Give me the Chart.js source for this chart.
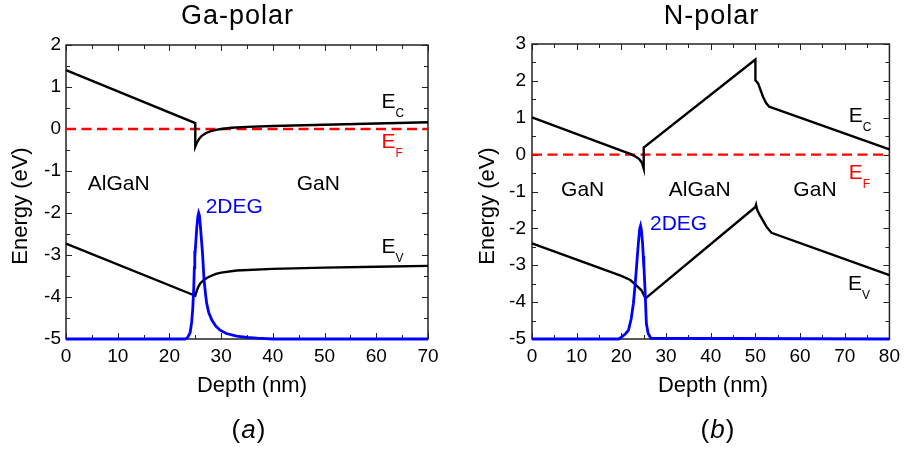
<!DOCTYPE html>
<html>
<head>
<meta charset="utf-8">
<script src="https://cdn.jsdelivr.net/npm/chart.js@4.4.1/dist/chart.umd.min.js"></script>
<style>
  html, body { margin: 0; padding: 0; background: #fff; }
  #wrap { position: relative; width: 906px; height: 451px; }
  canvas { position: absolute; top: 0; }
</style>
</head>
<body>
<div id="wrap">
  <canvas id="ga" width="453" height="451" style="left:0"></canvas>
  <canvas id="np" width="453" height="451" style="left:453px"></canvas>
</div>
<script>
// ===== data: (a) Ga-polar =====
const gaEcDepth = [0, 25, 25, 25.3, 25.7, 26.2, 27, 28, 29, 30, 32, 35, 40, 50, 60, 70];
const gaEc      = [1.40, 0.14, -0.42, -0.33, -0.24, -0.17, -0.10, -0.05, -0.02, 0.00, 0.03, 0.05, 0.07, 0.10, 0.13, 0.16];
const gaEvDepth = [0, 25, 25.3, 25.6, 26, 26.6, 27.3, 28, 29, 30, 33, 40, 50, 60, 70];
const gaEv      = [-2.73, -3.97, -3.85, -3.75, -3.67, -3.60, -3.54, -3.50, -3.45, -3.42, -3.37, -3.33, -3.30, -3.28, -3.26];
const gaDegDepth = [0, 23.0, 23.5, 24.0, 24.3, 24.5, 24.7, 24.82, 24.88, 24.93, 25.1, 25.3, 25.5, 25.65, 25.8, 26.0, 26.2, 26.4, 26.7, 27.0, 27.2, 27.6, 28.2, 29.0, 29.8, 31, 33, 35, 37, 40, 70];
const gaDeg      = [-5, -5, -4.97, -4.85, -4.6, -4.3, -3.8, -3.3, -2.9, -3.05, -2.7, -2.33, -2.08, -2.0, -2.06, -2.33, -2.65, -2.96, -3.6, -3.95, -4.15, -4.37, -4.55, -4.7, -4.79, -4.87, -4.93, -4.96, -4.98, -5, -5];
const gaEfDepth = [0, 70];
const gaEf      = [0, 0];

// ===== data: (b) N-polar =====
const npEcDepth = [0, 20, 22, 23, 24, 24.6, 25, 25, 50, 50, 50.6, 51.7, 52.4, 53.1, 54, 80];
const npEc      = [1.01, 0.11, 0.02, -0.04, -0.12, -0.22, -0.38, 0.19, 2.58, 2.02, 1.93, 1.57, 1.40, 1.30, 1.26, 0.14];
const npEvDepth = [0, 20, 22, 23.1, 24, 24.5, 25, 25.4, 50, 50.15, 50.4, 51, 52.5, 53.6, 80];
const npEv      = [-2.41, -3.29, -3.40, -3.52, -3.62, -3.68, -3.80, -3.90, -1.42, -1.36, -1.50, -1.64, -1.96, -2.12, -3.27];
const npDegDepth = [0, 19.4, 20.1, 21, 21.6, 22.2, 22.7, 23.1, 23.4, 23.8, 24.1, 24.3, 24.5, 24.75, 24.9, 25.0, 25.05, 25.3, 25.6, 26.0, 26.6, 80];
const npDeg      = [-5, -5, -4.94, -4.85, -4.76, -4.45, -4.03, -3.5, -3.04, -2.41, -2.02, -1.93, -2.05, -2.41, -2.75, -3.05, -2.95, -3.67, -4.58, -4.85, -4.98, -5];
const npEfDepth = [0, 80];
const npEf      = [0, 0];

const FONT = '"Liberation Sans", Arial, Helvetica, sans-serif';
const pts = (xs, ys) => xs.map((x, i) => ({ x, y: ys[i] }));

// 框線 + 內向刻度（四邊）
const frameTicks = {
  id: 'frameTicks',
  beforeDatasetsDraw(chart) {
    const { ctx, chartArea: a, scales: { x, y } } = chart;
    const mid = v => v.slice(1).map((b, i) => (v[i] + b) / 2);
    const xv = x.ticks.map(t => t.value);
    const yv = y.ticks.map(t => t.value);
    ctx.save();
    ctx.strokeStyle = '#222';
    ctx.lineWidth = 1;
    ctx.beginPath();
    const xt = (vals, len) => vals.forEach(v => {
      const p = Math.round(x.getPixelForValue(v)) + 0.5;
      ctx.moveTo(p, a.bottom); ctx.lineTo(p, a.bottom - len);
      ctx.moveTo(p, a.top); ctx.lineTo(p, a.top + len);
    });
    const yt = (vals, len) => vals.forEach(v => {
      const p = Math.round(y.getPixelForValue(v)) + 0.5;
      ctx.moveTo(a.left, p); ctx.lineTo(a.left + len, p);
      ctx.moveTo(a.right, p); ctx.lineTo(a.right - len, p);
    });
    xt(xv, 6); xt(mid(xv), 4);
    yt(yv, 6); yt(mid(yv), 4);
    ctx.stroke();
    ctx.lineWidth = 1.5;
    ctx.strokeRect(a.left, a.top, a.right - a.left, a.bottom - a.top);
    ctx.restore();
  }
};

// 圖上文字：標題、軸標題、圖說、能帶標註
const texts = {
  id: 'texts',
  afterDatasetsDraw(chart, args, opts) {
    const { ctx, scales: { x, y } } = chart;
    ctx.save();
    ctx.textBaseline = 'alphabetic';
    // title
    ctx.fillStyle = '#000';
    ctx.textAlign = 'center';
    ctx.font = `27px ${FONT}`;
    ctx.letterSpacing = '1px';
    ctx.fillText(opts.title, opts.titleX + 0.5, 24);
    // caption "(a)" with italic letter
    ctx.textAlign = 'left';
    ctx.font = `26px ${FONT}`;
    const wP = ctx.measureText('(').width;
    ctx.font = `italic 26px ${FONT}`;
    const wL = ctx.measureText(opts.caption).width;
    let cx = opts.captionX - (wP * 2 + wL) / 2;
    ctx.font = `26px ${FONT}`;
    ctx.fillText('(', cx, 438); cx += wP;
    ctx.font = `italic 26px ${FONT}`;
    ctx.fillText(opts.caption, cx, 438); cx += wL;
    ctx.font = `26px ${FONT}`;
    ctx.fillText(')', cx, 438);
    ctx.letterSpacing = '0px';
    // axis titles
    ctx.font = `22px ${FONT}`;
    ctx.textAlign = 'center';
    ctx.fillText('Depth (nm)', opts.xTitleX, 392);
    ctx.save();
    ctx.translate(opts.yTitleX, 206);
    ctx.rotate(-Math.PI / 2);
    ctx.fillText('Energy (eV)', 0, 0);
    ctx.restore();
    // annotations in data coordinates
    ctx.textAlign = 'left';
    opts.notes.forEach(n => {
      const px = x.getPixelForValue(n.x);
      const py = y.getPixelForValue(n.y);
      ctx.fillStyle = n.color || '#000';
      ctx.font = `21px ${FONT}`;
      ctx.fillText(n.text, px, py);
      if (n.sub) {
        const w = ctx.measureText(n.text).width;
        ctx.font = `12px ${FONT}`;
        ctx.fillText(n.sub, px + w, py + 9);
      }
    });
    ctx.restore();
  }
};

function bandChart(id, cfg) {
  return new Chart(document.getElementById(id), {
    type: 'scatter',
    data: {
      datasets: [
        { label: '2DEG', data: cfg.deg, borderColor: '#0000ff', borderWidth: 2.8 },
        { label: 'Ec', data: cfg.ec, borderColor: '#000', borderWidth: 2.4 },
        { label: 'Ev', data: cfg.ev, borderColor: '#000', borderWidth: 2.4 },
        { label: 'EF', data: cfg.ef, borderColor: '#ff0000', borderWidth: 2.4, borderDash: [10, 5.5] }
      ].map(d => ({ ...d, showLine: true, pointRadius: 0, tension: 0, fill: false, clip: 4 }))
    },
    options: {
      responsive: false,
      animation: false,
      layout: { padding: { left: 0, top: cfg.top, right: cfg.right, bottom: 82 } },
      plugins: {
        legend: { display: false },
        tooltip: { enabled: false },
        texts: cfg.texts
      },
      scales: {
        x: {
          type: 'linear', min: 0, max: cfg.xMax,
          grid: { display: false, drawTicks: false },
          border: { display: false },
          ticks: { stepSize: 10, padding: 6, color: '#000', font: { family: FONT, size: 19 } },
          afterFit: s => { s.height = 30; }
        },
        y: {
          min: -5, max: cfg.yMax,
          grid: { display: false, drawTicks: false },
          border: { display: false },
          ticks: { stepSize: 1, padding: cfg.yPad, color: '#000', font: { family: FONT, size: 19 } },
          afterFit: s => { s.width = cfg.yWidth; }
        }
      }
    },
    plugins: [frameTicks, texts]
  });
}

bandChart('ga', {
  deg: pts(gaDegDepth, gaDeg), ec: pts(gaEcDepth, gaEc), ev: pts(gaEvDepth, gaEv), ef: pts(gaEfDepth, gaEf),
  xMax: 70, yMax: 2, top: 45, right: 25, yWidth: 66, yPad: 5,
  texts: {
    title: 'Ga-polar', titleX: 237, caption: 'a', captionX: 249, xTitleX: 252, yTitleX: 27,
    notes: [
      { text: 'E', sub: 'C', x: 61.0, y: 0.5 },
      { text: 'E', sub: 'F', x: 61.0, y: -0.45, color: '#ff0000' },
      { text: 'E', sub: 'V', x: 61.0, y: -2.95 },
      { text: 'AlGaN', x: 4.2, y: -1.45 },
      { text: 'GaN', x: 44.6, y: -1.45 },
      { text: '2DEG', x: 27.0, y: -2.0, color: '#0000ff' }
    ]
  }
});

bandChart('np', {
  deg: pts(npDegDepth, npDeg), ec: pts(npEcDepth, npEc), ev: pts(npEvDepth, npEv), ef: pts(npEfDepth, npEf),
  xMax: 80, yMax: 3, top: 44, right: 11, yWidth: 79, yPad: 6,
  texts: {
    title: 'N-polar', titleX: 258, caption: 'b', captionX: 265, xTitleX: 260, yTitleX: 41,
    notes: [
      { text: 'E', sub: 'C', x: 70.9, y: 0.885 },
      { text: 'E', sub: 'F', x: 70.9, y: -0.66, color: '#ff0000' },
      { text: 'E', sub: 'V', x: 70.7, y: -3.67 },
      { text: 'GaN', x: 6.5, y: -1.12 },
      { text: 'AlGaN', x: 30.6, y: -1.12 },
      { text: 'GaN', x: 58.5, y: -1.12 },
      { text: '2DEG', x: 26.4, y: -2.04, color: '#0000ff' }
    ]
  }
});
</script>
</body>
</html>
